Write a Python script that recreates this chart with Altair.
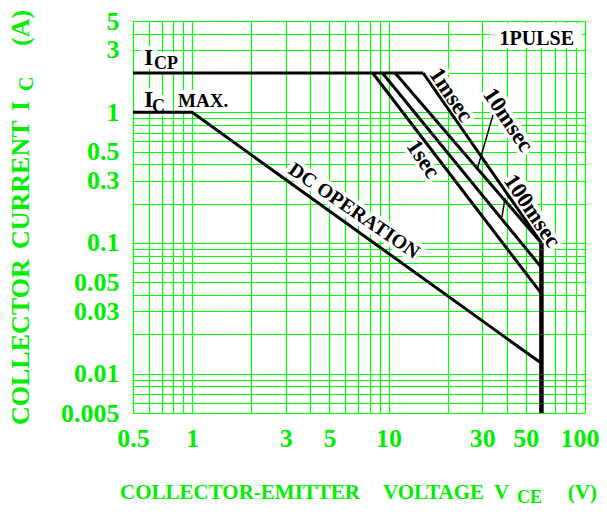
import json
import altair as alt
import pandas as pd

# ---- data ----
icp_v = [0.5, 15]
icp_i = [2, 2]
ms1_v = [15, 60]
ms1_i = [2, 0.1]
ms10_v = [10.8, 60]
ms10_i = [2, 0.1]
ms100_v = [9.3, 60]
ms100_i = [2, 0.065]
s1_v = [8.3, 60]
s1_i = [2, 0.041]
dc_v = [0.5, 1, 60]
dc_i = [1, 1, 0.012]
lim_v = [60, 60]
lim_i = [0.1, 0.005]

x_labels = [0.5, 1, 3, 5, 10, 30, 50, 100]
y_labels = [0.005, 0.01, 0.03, 0.05, 0.1, 0.3, 0.5, 1, 3, 5]

series = [("ICP", icp_v, icp_i), ("1msec", ms1_v, ms1_i), ("10msec", ms10_v, ms10_i),
          ("100msec", ms100_v, ms100_i), ("1sec", s1_v, s1_i), ("DC", dc_v, dc_i)]
rows = []
for name, vs, cs in series:
    for k, (v, c) in enumerate(zip(vs, cs)):
        rows.append({"s": name, "v": v, "i": c, "o": k})
df = pd.DataFrame(rows)
df_lim = pd.DataFrame({"s": "lim", "v": lim_v, "i": lim_i, "o": [0, 1]})

grid_x = sorted({round(m * 10 ** e, 6) for e in range(-1, 3) for m in range(1, 10)
                 if 0.5 <= round(m * 10 ** e, 6) <= 100})
grid_y = sorted({round(m * 10 ** e, 6) for e in range(-3, 1) for m in range(1, 10)
                 if 0.005 <= round(m * 10 ** e, 6) <= 5})

GREEN = "#00ee00"
GRID = "#00ff00"
FONT = "Liberation Serif"

OX, OY = 133, 21  # page position of plot origin


def lab_expr(vals):
    return f"indexof({json.dumps(vals)}, datum.value) >= 0 ? format(datum.value, '~g') : ''"


xs = alt.Scale(type="log", domain=[0.5, 100], nice=False)
ys = alt.Scale(type="log", domain=[0.005, 5], nice=False)
last_x = f"datum.value === {x_labels[-1]}"

base = alt.Chart(df).encode(
    x=alt.X("v:Q", scale=xs, axis=alt.Axis(
        values=grid_x, labelExpr=lab_expr(x_labels), title=None, grid=True,
        gridColor=GRID, gridWidth=1.2, gridOpacity=1, domain=False, ticks=False,
        labelColor=GREEN, labelFont=FONT, labelFontSize=26, labelFontWeight="bold",
        labelPadding=12, labelOverlap=False, labelFlush=False,
        labelAlign={"condition": {"test": last_x, "value": "right"}, "value": "center"},
        labelOffset={"condition": {"test": last_x, "value": 14}, "value": 0})),
    y=alt.Y("i:Q", scale=ys, axis=alt.Axis(
        values=grid_y, labelExpr=lab_expr(y_labels), title=None, grid=True,
        gridColor=GRID, gridWidth=1.2, gridOpacity=1, domain=False, ticks=False,
        labelColor=GREEN, labelFont=FONT, labelFontSize=26, labelFontWeight="bold",
        labelPadding=14, labelOverlap=False, labelFlush=False)),
    detail="s:N", order="o:Q")

lines = base.mark_line(color="black", strokeWidth=3, clip=True)
lim = alt.Chart(df_lim).mark_line(color="black", strokeWidth=4.5, clip=True).encode(
    x=alt.X("v:Q", scale=xs), y=alt.Y("i:Q", scale=ys), order="o:Q")


def txt(s, xp, yp, size, color="black", angle=0, align="left", baseline="alphabetic",
        halo=False, weight="bold"):
    kw = dict(text=s, fontSize=size, font=FONT, angle=angle, align=align,
              baseline=baseline, fontWeight=weight)
    if halo:
        kw.update(fill="white", stroke="white", strokeWidth=8, strokeJoin="round")
    else:
        kw.update(color=color)
    return alt.Chart(alt.Data(values=[{}])).mark_text(**kw).encode(
        x=alt.value(xp - OX), y=alt.value(yp - OY))


def rule(x1, y1, x2, y2, w=1.5):
    return alt.Chart(alt.Data(values=[{}])).mark_rule(color="black", strokeWidth=w).encode(
        x=alt.value(x1 - OX), x2=alt.value(x2 - OX), y=alt.value(y1 - OY), y2=alt.value(y2 - OY))


inner = [
    ("1msec", 451, 95, 23, 56),
    ("10msec", 508, 120, 23, 56),
    ("100msec", 532, 211, 23, 56),
    ("1sec", 423, 159, 23, 56),
    ("DC  OPERATION", 354, 211, 20, 34.5),
]
straight = [
    ("I", 144, 65, 24), ("CP", 154, 69, 18),
    ("I", 144, 107, 24), ("C", 152, 112, 18),
    ("MAX.", 178, 107, 19),
]

halos = [txt(s, x, y, f, angle=a, align="center", baseline="middle", halo=True)
         for s, x, y, f, a in inner]
halos += [txt(s, x, y, f, halo=True) for s, x, y, f in straight]
inner_t = [txt(s, x, y, f, angle=a, align="center", baseline="middle")
           for s, x, y, f, a in inner]
inner_t += [txt(s, x, y, f) for s, x, y, f in straight]
inner_t.append(txt("1PULSE", 574, 45, 20, align="right"))

pulse_box = alt.Chart(alt.Data(values=[{}])).mark_rect(fill="white").encode(
    x=alt.value(490 - OX), x2=alt.value(582 - OX), y=alt.value(23 - OY), y2=alt.value(48 - OY))

titles = [
    txt("COLLECTOR-EMITTER", 120, 499, 21, color=GREEN),
    txt("VOLTAGE", 383, 499, 21, color=GREEN),
    txt("V", 494, 499, 21, color=GREEN),
    txt("CE", 517, 503, 18, color=GREEN),
    txt("(V)", 597, 499, 21, color=GREEN, align="right"),
    txt("COLLECTOR", 29, 425, 26, color=GREEN, angle=270),
    txt("CURRENT", 29, 249, 26, color=GREEN, angle=270),
    txt("I", 29, 111, 26, color=GREEN, angle=270),
    txt("C", 33, 91, 20, color=GREEN, angle=270),
    txt("(A)", 29, 46, 26, color=GREEN, angle=270),
]

leaders = [rule(493, 115, 477, 170), rule(505, 198, 502, 217)]

chart = alt.layer(
    pulse_box, *halos, lines, lim, *leaders, *inner_t, *titles
).properties(
    width=452, height=392,
    autosize=alt.AutoSizeParams(type="none"),
    padding={"left": OX - 8, "top": OY - 8, "right": 14, "bottom": 93},
).configure_view(stroke="black", strokeWidth=3).configure(background="white")

chart.save("out.html", embed_options={"renderer": "svg", "actions": False})
